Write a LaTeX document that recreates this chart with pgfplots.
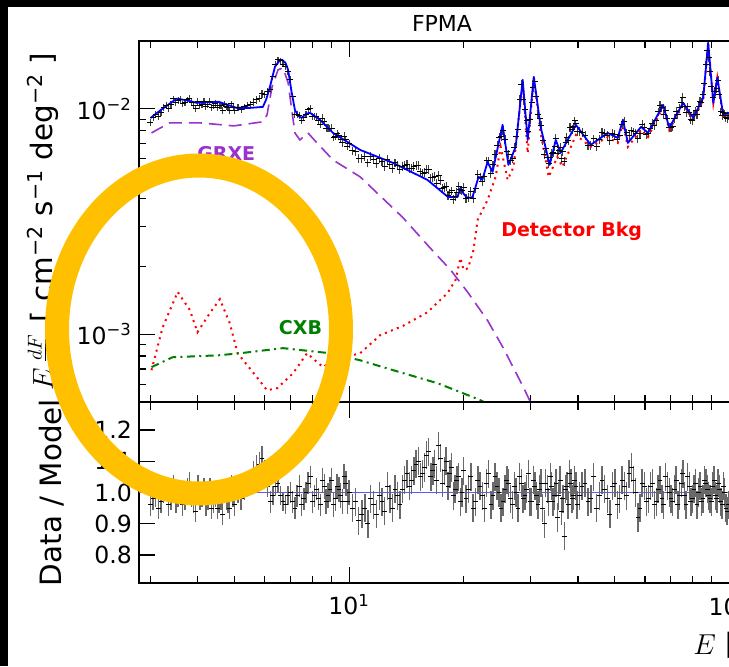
\documentclass[border=0pt]{standalone}
\usepackage{pgfplots}
\pgfplotsset{compat=1.18}
\usepackage{pgfplotstable}
\usepackage{fontspec}
\setmainfont{DejaVu Sans}
\definecolor{grxe}{RGB}{153,51,204}
\definecolor{cxb}{RGB}{0,128,0}
\definecolor{ring}{RGB}{255,192,0}
\definecolor{ebar}{RGB}{105,105,105}
\definecolor{ratioline}{RGB}{90,90,255}

\pgfplotstableread{
E F R Re
3.0 0.00874 0.96 0.035
3.1 0.00941 0.99 0.035
3.2 0.00960 0.97 0.035
3.3 0.01040 1.01 0.035
3.4 0.01049 0.98 0.035
3.5 0.01067 0.97 0.035
3.6 0.01100 1.00 0.035
3.7 0.01068 0.98 0.035
3.8 0.01112 1.03 0.035
3.9 0.01038 0.97 0.035
4.0 0.01081 1.02 0.035
4.1 0.01049 0.99 0.035
4.2 0.01027 0.96 0.035
4.3 0.01081 1.01 0.035
4.4 0.01038 0.97 0.035
4.5 0.01017 0.95 0.035
4.6 0.01039 0.98 0.035
4.7 0.01050 1.00 0.035
4.8 0.01009 0.97 0.035
4.9 0.01051 1.02 0.035
5.0 0.00979 0.96 0.035
5.2 0.00990 0.98 0.035
5.4 0.01040 1.03 0.035
5.6 0.01071 1.06 0.040
5.8 0.01112 1.09 0.040
6.0 0.01156 1.07 0.035
6.2 0.01222 0.97 0.035
6.4 0.01581 1.02 0.030
6.6 0.01634 0.99 0.030
6.8 0.01536 0.96 0.030
7.0 0.01350 1.00 0.035
7.2 0.00941 0.95 0.035
7.4 0.00938 1.02 0.035
7.6 0.00911 0.98 0.035
7.8 0.00989 1.03 0.035
8.0 0.00922 0.97 0.035
8.2 0.00929 1.01 0.035
8.4 0.00854 0.96 0.035
8.6 0.00877 1.02 0.040
8.8 0.00822 0.99 0.040
9.0 0.00822 1.04 0.040
9.2 0.00755 0.98 0.040
9.4 0.00758 1.01 0.040
9.6 0.00708 0.97 0.040
9.8 0.00731 1.03 0.040
10.0 0.00700 1.00 0.040
10.4 0.00650 0.97 0.045
10.8 0.00605 0.93 0.045
11.2 0.00576 0.90 0.045
11.6 0.00595 0.96 0.045
12.0 0.00604 0.99 0.045
12.4 0.00555 0.94 0.045
12.8 0.00568 0.98 0.045
13.2 0.00576 1.01 0.045
13.6 0.00538 0.96 0.045
14.0 0.00562 1.04 0.045
14.4 0.00541 1.02 0.045
14.8 0.00556 1.07 0.045
15.2 0.00561 1.10 0.045
15.6 0.00519 1.06 0.045
16.0 0.00538 1.12 0.045
16.4 0.00494 1.05 0.045
16.8 0.00501 1.09 0.045
17.2 0.00506 1.15 0.045
17.6 0.00443 1.03 0.045
18.0 0.00451 1.10 0.045
18.4 0.00424 1.06 0.045
18.8 0.00396 0.99 0.045
19.2 0.00426 1.04 0.045
19.6 0.00437 0.97 0.045
20.0 0.00449 1.07 0.045
20.6 0.00404 1.01 0.045
21.2 0.00399 0.95 0.045
21.8 0.00510 1.04 0.045
22.4 0.00475 0.99 0.045
23.0 0.00587 1.03 0.045
23.6 0.00518 0.96 0.045
24.2 0.00630 1.05 0.045
24.8 0.00750 1.00 0.045
25.4 0.00805 0.97 0.045
26.0 0.00645 1.04 0.045
26.6 0.00588 0.98 0.045
27.2 0.00673 1.02 0.045
27.8 0.00808 0.95 0.045
28.4 0.01288 1.03 0.045
29.0 0.00990 0.99 0.045
29.6 0.00795 1.06 0.045
30.2 0.01067 0.97 0.045
30.8 0.01326 1.02 0.045
31.4 0.00941 0.96 0.045
32.0 0.00845 1.03 0.045
32.6 0.00630 0.90 0.045
33.2 0.00606 1.01 0.045
33.8 0.00609 1.05 0.045
34.4 0.00640 0.97 0.045
35.0 0.00742 1.03 0.045
35.6 0.00653 0.99 0.045
36.2 0.00602 0.94 0.045
36.8 0.00585 0.86 0.045
37.4 0.00745 1.02 0.045
38.0 0.00827 1.06 0.045
38.6 0.00813 0.98 0.045
39.2 0.00884 1.04 0.045
39.8 0.00797 0.96 0.045
41.0 0.00785 1.02 0.045
42.5 0.00689 0.97 0.045
44.0 0.00735 1.05 0.045
45.5 0.00733 0.99 0.045
47.0 0.00778 1.01 0.045
48.5 0.00725 0.93 0.045
50.0 0.00773 1.03 0.045
51.5 0.00764 0.98 0.045
53.0 0.00877 1.02 0.045
54.5 0.00763 1.06 0.045
56.0 0.00790 1.04 0.045
57.5 0.00736 0.92 0.045
59.0 0.00855 1.03 0.045
60.5 0.00766 0.97 0.045
62.0 0.00816 1.02 0.045
63.5 0.00845 0.96 0.045
65.0 0.00970 1.01 0.045
66.5 0.01009 0.98 0.045
68.0 0.00987 1.05 0.045
69.5 0.00830 1.00 0.045
71.0 0.00834 0.97 0.045
72.5 0.00978 1.04 0.045
74.0 0.01010 0.99 0.045
75.5 0.01124 1.06 0.045
77.0 0.00960 0.96 0.045
78.5 0.00959 1.02 0.045
80.0 0.00892 0.98 0.045
81.5 0.00979 1.03 0.045
83.0 0.01020 1.00 0.045
84.5 0.01067 0.97 0.045
86.0 0.01300 1.04 0.045
87.5 0.01818 1.01 0.045
89.0 0.01470 0.98 0.045
90.5 0.01122 1.02 0.045
92.0 0.01188 0.99 0.045
93.5 0.01339 1.03 0.045
95.0 0.00970 0.97 0.045
96.5 0.00959 1.02 0.045
98.0 0.00912 0.95 0.045
99.5 0.00931 0.96 0.045
}\datatab

\pgfplotstableread{
E F R Re
3.05 0.00911 0.98 0.035
3.15 0.00922 0.95 0.035
3.25 0.01010 1.00 0.035
3.35 0.01008 0.96 0.035
3.45 0.01107 1.02 0.035
3.55 0.01089 0.99 0.035
3.65 0.01051 0.96 0.035
3.75 0.01096 1.01 0.035
3.85 0.01064 0.99 0.035
3.95 0.01001 0.94 0.035
4.05 0.01039 0.98 0.035
4.15 0.01076 1.01 0.035
4.25 0.01049 0.98 0.035
4.35 0.01017 0.95 0.035
4.45 0.01059 0.99 0.035
4.55 0.01033 0.97 0.035
4.65 0.00981 0.93 0.035
4.75 0.01024 0.98 0.035
4.85 0.00983 0.95 0.035
4.95 0.01015 0.99 0.035
5.1 0.01015 1.00 0.035
5.3 0.01020 1.01 0.035
5.5 0.01050 1.04 0.035
5.7 0.01096 1.08 0.040
5.9 0.01166 1.11 0.040
6.1 0.01193 1.02 0.035
6.3 0.01386 0.99 0.030
6.5 0.01648 1.03 0.030
6.7 0.01576 0.97 0.030
6.9 0.01460 0.99 0.030
7.1 0.01135 0.97 0.035
7.3 0.00945 0.99 0.035
7.5 0.00888 0.96 0.035
7.7 0.00945 1.00 0.035
7.9 0.01003 1.05 0.035
8.1 0.00926 0.99 0.035
8.3 0.00887 0.98 0.035
8.5 0.00910 1.04 0.040
8.7 0.00820 0.97 0.040
8.9 0.00818 1.01 0.040
9.1 0.00749 0.96 0.040
9.3 0.00775 1.02 0.040
9.5 0.00733 0.99 0.040
9.7 0.00756 1.05 0.040
9.9 0.00684 0.97 0.040
10.2 0.00651 0.95 0.045
10.6 0.00601 0.91 0.045
11.0 0.00613 0.95 0.045
11.4 0.00617 0.98 0.045
11.8 0.00572 0.93 0.045
12.2 0.00582 0.97 0.045
12.6 0.00597 1.02 0.045
13.0 0.00546 0.95 0.045
13.4 0.00559 0.99 0.045
13.8 0.00556 1.01 0.045
14.2 0.00567 1.06 0.045
14.6 0.00546 1.04 0.045
15.0 0.00561 1.09 0.045
15.4 0.00525 1.05 0.045
15.8 0.00524 1.08 0.045
16.2 0.00537 1.13 0.045
16.6 0.00498 1.07 0.045
17.0 0.00468 1.04 0.045
17.4 0.00483 1.11 0.045
17.8 0.00449 1.07 0.045
18.2 0.00413 1.02 0.045
18.6 0.00432 1.08 0.045
19.0 0.00409 1.01 0.045
19.4 0.00452 1.05 0.045
19.8 0.00435 1.00 0.045
20.3 0.00402 0.98 0.045
20.9 0.00431 1.05 0.045
21.5 0.00441 0.97 0.045
22.1 0.00495 1.02 0.045
22.7 0.00499 0.95 0.045
23.3 0.00588 1.06 0.045
23.9 0.00564 0.99 0.045
24.5 0.00689 1.02 0.045
25.1 0.00751 0.95 0.045
25.7 0.00732 1.01 0.045
26.3 0.00628 1.03 0.045
26.9 0.00605 0.96 0.045
27.5 0.00755 1.00 0.045
28.1 0.01103 1.05 0.045
28.7 0.01103 0.98 0.045
29.3 0.00884 1.01 0.045
29.9 0.00897 0.97 0.045
30.5 0.01248 1.04 0.045
31.1 0.01129 0.99 0.045
31.7 0.00909 1.01 0.045
32.3 0.00722 0.95 0.045
32.9 0.00670 1.03 0.045
33.5 0.00572 0.97 0.045
34.1 0.00632 1.02 0.045
34.7 0.00683 0.99 0.045
35.3 0.00635 0.92 0.045
35.9 0.00676 1.04 0.045
36.5 0.00647 0.98 0.045
37.1 0.00712 1.01 0.045
37.7 0.00725 0.96 0.045
38.3 0.00829 1.03 0.045
38.9 0.00832 0.99 0.045
39.5 0.00857 1.02 0.045
40.4 0.00792 0.99 0.045
41.75 0.00762 1.03 0.045
43.25 0.00691 0.98 0.045
44.75 0.00684 0.95 0.045
46.25 0.00785 1.04 0.045
47.75 0.00760 0.98 0.045
49.25 0.00780 1.02 0.045
50.75 0.00734 0.96 0.045
52.25 0.00853 1.04 0.045
53.75 0.00782 0.99 0.045
55.25 0.00799 1.08 0.045
56.75 0.00780 1.00 0.045
58.25 0.00774 0.95 0.045
59.75 0.00826 1.02 0.045
61.25 0.00779 0.98 0.045
62.75 0.00865 1.03 0.045
64.25 0.00892 0.97 0.045
65.75 0.01035 1.04 0.045
67.25 0.00946 0.96 0.045
68.75 0.00903 1.02 0.045
70.25 0.00828 0.98 0.045
71.75 0.00909 1.01 0.045
73.25 0.00941 0.96 0.045
74.75 0.01071 1.03 0.045
76.25 0.01020 0.99 0.045
77.75 0.01019 1.05 0.045
79.25 0.00897 0.97 0.045
80.75 0.00939 1.01 0.045
82.25 0.00946 0.96 0.045
83.75 0.01081 1.02 0.045
85.25 0.01152 0.98 0.045
86.75 0.01566 1.03 0.045
88.25 0.01683 0.99 0.045
89.75 0.01261 0.97 0.045
91.25 0.01196 1.04 0.045
92.75 0.01225 0.98 0.045
94.25 0.01162 1.01 0.045
95.75 0.00931 0.96 0.045
97.25 0.00950 1.00 0.045
98.75 0.00907 0.94 0.045
}\datatabb

\begin{document}
\begin{tikzpicture}
\useasboundingbox (0,0) rectangle (364.5pt,333pt);
\clip (0,0) rectangle (364.5pt,333pt);
\fill[white] (0,0) rectangle (364.5pt,333pt);

% ---------- upper panel ----------
\begin{axis}[
  xmode=log, xmin=2.8, xmax=110,
  scale only axis, width=303pt, height=180.5pt,
  axis line style={line width=0.75pt},
  major tick length=8pt, minor tick length=3.75pt,
  major tick style={black, line width=0.6pt},
  minor tick style={black, line width=0.6pt},
  tick align=inside,
  xtick={10,100}, minor xtick={3,4,5,6,7,8,9,20,30,40,50,60,70,80,90},
  tick label style={font=\fontsize{11.8}{13}\selectfont},
  label style={font=\fontsize{14.7}{16}\selectfont},
  at={(69.5pt,132pt)}, anchor=south west,
  ymode=log, ymin=5e-4, ymax=0.02,
  ytick={1e-3,1e-2}, yticklabels={10\textsuperscript{−3},10\textsuperscript{−2}},
  minor ytick={5e-4,6e-4,7e-4,8e-4,9e-4,2e-3,3e-3,4e-3,5e-3,6e-3,7e-3,8e-3,9e-3,2e-2},
  xticklabels={},
  title={FPMA},
  title style={font=\fontsize{11}{12}\selectfont, yshift=-5pt},
  ylabel={$E\,\frac{dF}{dE}$ [ cm\textsuperscript{−2} s\textsuperscript{−1} deg\textsuperscript{−2} ]},
  ylabel style={at={(rel axis cs:-0.155,0.5)}, anchor=center},
]
\addplot[black, only marks, mark=-, mark size=1.5pt, mark options={line width=0.5pt},
  error bars/.cd, y dir=both, y explicit relative, error mark=none,
  error bar style={line width=0.55pt, black!75}]
  table[x=E, y=F, y error=Re] {\datatab};
\addplot[black, only marks, mark=-, mark size=1.5pt, mark options={line width=0.5pt},
  error bars/.cd, y dir=both, y explicit relative, error mark=none,
  error bar style={line width=0.55pt, black!75}]
  table[x=E, y=F, y error=Re] {\datatabb};
\addplot[grxe, line width=0.8pt, dash pattern=on 6.5pt off 3.5pt] coordinates {
(3.02,0.00782)(3.37,0.00867)(4.04,0.00867)(4.97,0.0084)(5.93,0.00876)(6.08,0.0094)
(6.27,0.01253)(6.50,0.0149)(6.70,0.0152)(6.91,0.01305)(7.20,0.00782)(7.42,0.00728)
(7.79,0.00782)(8.23,0.00706)(9.07,0.00593)(10.69,0.00499)(13.88,0.00328)(16.06,0.00249)
(18.48,0.00193)(20.48,0.00154)(23.13,0.00115)(25.45,0.000867)(28.74,0.000581)(30.0,0.000499)(31.5,0.00042)};
\addplot[red, line width=1pt, dash pattern=on 1pt off 2.2pt] coordinates {
(3.02,0.000692)(3.23,0.00107)(3.54,0.00154)(3.81,0.00128)(3.99,0.00102)(4.30,0.00124)
(4.57,0.00143)(4.85,0.00112)(5.09,0.000823)(5.72,0.000644)(6.08,0.000564)(6.46,0.000575)
(7.12,0.000671)(7.75,0.000823)(8.13,0.000766)(8.54,0.000714)(9.07,0.000766)(10.69,0.000823)
(12.07,0.00099)(13.88,0.00109)(16.06,0.00125)(18.14,0.00152)(19.05,0.00174)(19.63,0.00218)
(20.0,0.00193)(20.55,0.00196)(21.23,0.00236)(21.77,0.00321)(23.13,0.00394)(24.28,0.00499)
(25.03,0.00678)(26.12,0.00484)(27.08,0.00553)(28.26,0.01096)(28.61,0.01305)(29.49,0.00637)
(30.6,0.01388)(31.9,0.00782)(33.5,0.00499)(35.3,0.00612)(36.4,0.00553)(39.5,0.00766)
(43.2,0.00678)(47.9,0.0075)(50.9,0.00706)(52.5,0.00867)(54.1,0.00678)(58.6,0.00807)
(61.1,0.0075)(67.0,0.0102)(69.5,0.00807)(75.6,0.01042)(80.4,0.00894)(85.4,0.01096)
(88.0,0.01965)(90.8,0.01063)(93.0,0.01374)(96.4,0.00912)(98.8,0.0094)(105,0.0094)};
\addplot[cxb, line width=1pt, dash pattern=on 4pt off 2.2pt on 1pt off 2.2pt] coordinates {
(3.02,0.000714)(3.43,0.00079)(4.54,0.000806)(5.16,0.000823)(6.70,0.000867)(8.91,0.000823)
(10.69,0.000766)(13.06,0.000692)(17.07,0.000606)(19.63,0.000553)(22.17,0.000509)(23.13,0.00049)};
\addplot[blue, line width=0.9pt, line join=round] coordinates {
(3.0,0.0091)(3.2,0.0099)(3.52,0.0111)(3.75,0.0109)(3.97,0.01063)(4.25,0.0107)(4.54,0.01074)
(4.8,0.0104)(5.06,0.0101)(5.5,0.0101)(5.93,0.0102)(6.05,0.0110)(6.19,0.01253)(6.38,0.01537)
(6.55,0.0163)(6.66,0.01651)(6.8,0.0160)(6.91,0.0149)(7.05,0.0120)(7.20,0.0099)(7.35,0.0093)
(7.50,0.00912)(7.7,0.0095)(7.89,0.0096)(8.1,0.0093)(8.38,0.00894)(9.07,0.00782)(10.69,0.00657)
(13.06,0.00575)(16.06,0.00484)(18.21,0.00406)(19.28,0.00406)(19.63,0.00446)(20.0,0.0042)
(20.48,0.00402)(21.11,0.00406)(21.9,0.00499)(22.4,0.00484)(23.13,0.00581)(23.84,0.00525)
(25.33,0.00849)(26.24,0.00564)(27.42,0.00678)(28.61,0.01346)(29.49,0.00728)(30.6,0.01388)
(31.9,0.00832)(33.7,0.00564)(34.96,0.00728)(36.0,0.00637)(39.5,0.00849)(43.2,0.00692)
(47.9,0.00782)(50.9,0.00743)(52.5,0.00894)(54.1,0.00706)(58.6,0.00832)(61.1,0.00782)
(67.0,0.01042)(69.5,0.00823)(75.6,0.01063)(80.4,0.00912)(85.4,0.01119)(88.0,0.01965)
(90.8,0.01063)(93.0,0.01374)(96.4,0.0094)(98.8,0.0096)(105,0.0095)(110,0.0097)};
\node[grxe, font=\bfseries\fontsize{9.5}{11}\selectfont] at (axis cs:4.75,0.0063) {GRXE};
\node[red, font=\bfseries\fontsize{9.5}{11}\selectfont] at (axis cs:38.5,0.00285) {Detector Bkg};
\node[cxb, font=\bfseries\fontsize{9.5}{11}\selectfont] at (axis cs:7.45,0.00107) {CXB};
\end{axis}

% ---------- lower panel ----------
\begin{axis}[
  xmode=log, xmin=2.8, xmax=110,
  scale only axis, width=303pt, height=90.5pt,
  axis line style={line width=0.75pt},
  major tick length=8pt, minor tick length=3.75pt,
  major tick style={black, line width=0.6pt},
  minor tick style={black, line width=0.6pt},
  tick align=inside,
  xtick={10,100}, minor xtick={3,4,5,6,7,8,9,20,30,40,50,60,70,80,90},
  tick label style={font=\fontsize{11.8}{13}\selectfont},
  label style={font=\fontsize{14.7}{16}\selectfont},
  at={(69.5pt,41.5pt)}, anchor=south west,
  ymin=0.71, ymax=1.29,
  ytick={0.8,0.9,1.0,1.1,1.2}, yticklabels={0.8,0.9,1.0,1.1,1.2},
  xticklabels={10\textsuperscript{1},10\textsuperscript{2}},
  xticklabel style={yshift=-2pt},
  ylabel={Data / Model},
  ylabel style={at={(rel axis cs:-0.1436,0.5)}, anchor=center},
  xlabel={$E$ [keV]},
  xlabel style={at={(rel axis cs:0.903,0)}, anchor=north west, yshift=-21pt},
]
\addplot[ratioline, line width=0.8pt] coordinates {(2.8,1) (110,1)};
\addplot[black, only marks, mark=-, mark size=1.2pt, mark options={line width=0.5pt},
  error bars/.cd, y dir=both, y explicit, error mark=none,
  error bar style={line width=0.7pt, ebar}]
  table[x=E, y=R, y error=Re] {\datatab};
\addplot[black, only marks, mark=-, mark size=1.2pt, mark options={line width=0.5pt},
  error bars/.cd, y dir=both, y explicit, error mark=none,
  error bar style={line width=0.7pt, ebar}]
  table[x=E, y=R, y error=Re] {\datatabb};
\end{axis}

\draw[ring, line width=12pt] (99.5pt,168.25pt) ellipse [x radius=71pt, y radius=82pt];
\fill[black] (0,0) rectangle (4pt,333pt);
\fill[black] (0,329.5pt) rectangle (364.5pt,333pt);
\end{tikzpicture}
\end{document}
